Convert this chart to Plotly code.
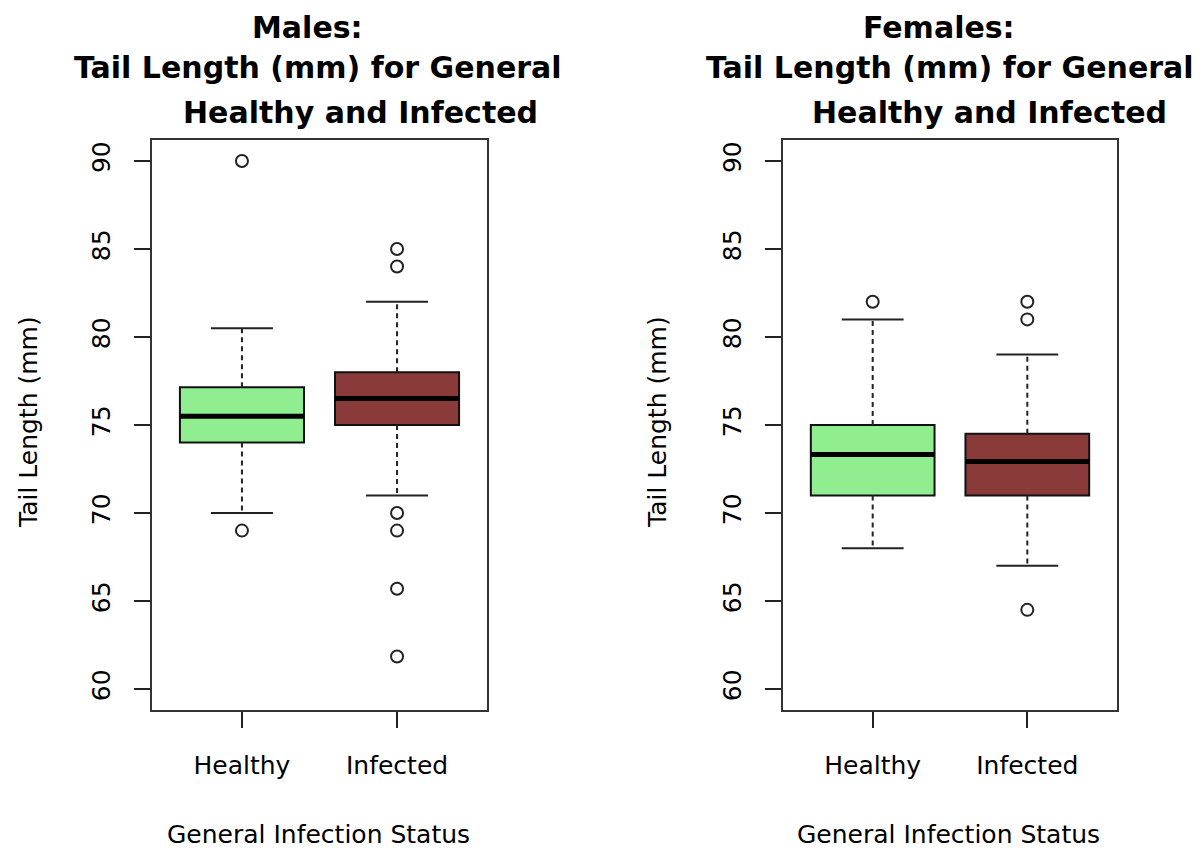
import plotly.graph_objects as go

# ---------------- data ----------------
groups = ["Healthy", "Infected"]
positions = [1, 2]
box_colors = ["#90EE90", "#8B3A3A"]

male_lower = [70.0, 71.0]
male_q1 = [74.0, 75.0]
male_median = [75.5, 76.5]
male_q3 = [77.15, 78.0]
male_upper = [80.5, 82.0]
male_out_healthy = [90.0, 69.0]
male_out_infected = [85.0, 84.0, 70.0, 69.0, 65.7, 61.85]

female_lower = [68.0, 67.0]
female_q1 = [71.0, 71.0]
female_median = [73.33, 72.92]
female_q3 = [75.0, 74.5]
female_upper = [81.0, 79.0]
female_out_healthy = [82.0]
female_out_infected = [82.0, 81.0, 64.5]

y_ticks = [60, 65, 70, 75, 80, 85, 90]

W, H = 1202, 854
FONT = "DejaVu Sans"


def px_x(p):
    return p / W


def px_y(p):
    return 1 - p / H


fig = go.Figure()


def add_panel(xa, ya, lower, q1, med, q3, upper, out_h, out_i):
    # boxes
    fig.add_trace(go.Bar(
        x=positions, y=[b - a for a, b in zip(q1, q3)], base=q1, width=0.8,
        marker=dict(color=box_colors, line=dict(color="#111", width=2)),
        xaxis=xa, yaxis=ya, showlegend=False, hoverinfo="skip"))
    # whiskers (dashed)
    wx, wy = [], []
    for c, lo, a, b, hi in zip(positions, lower, q1, q3, upper):
        wx += [c, c, None, c, c, None]
        wy += [b, hi, None, a, lo, None]
    fig.add_trace(go.Scatter(x=wx, y=wy, mode="lines",
                             line=dict(color="#222", width=2, dash="5px,4px"),
                             xaxis=xa, yaxis=ya, showlegend=False, hoverinfo="skip"))
    # caps
    cx, cy = [], []
    for c, lo, hi in zip(positions, lower, upper):
        cx += [c - 0.2, c + 0.2, None, c - 0.2, c + 0.2, None]
        cy += [hi, hi, None, lo, lo, None]
    fig.add_trace(go.Scatter(x=cx, y=cy, mode="lines",
                             line=dict(color="#222", width=2),
                             xaxis=xa, yaxis=ya, showlegend=False, hoverinfo="skip"))
    # medians
    mx, my = [], []
    for c, m in zip(positions, med):
        mx += [c - 0.4, c + 0.4, None]
        my += [m, m, None]
    fig.add_trace(go.Scatter(x=mx, y=my, mode="lines",
                             line=dict(color="black", width=5),
                             xaxis=xa, yaxis=ya, showlegend=False, hoverinfo="skip"))
    # outliers
    ox = [positions[0]] * len(out_h) + [positions[1]] * len(out_i)
    oy = list(out_h) + list(out_i)
    fig.add_trace(go.Scatter(x=ox, y=oy, mode="markers",
                             marker=dict(symbol="circle-open", size=12, color="#222",
                                         line=dict(width=2, color="#222")),
                             xaxis=xa, yaxis=ya, showlegend=False, hoverinfo="skip"))


add_panel("x", "y", male_lower, male_q1, male_median, male_q3, male_upper,
          male_out_healthy, male_out_infected)
add_panel("x2", "y2", female_lower, female_q1, female_median, female_q3, female_upper,
          female_out_healthy, female_out_infected)

ydom = [px_y(710), px_y(140)]
xcommon = dict(range=[0.42, 2.58], tickvals=positions, ticktext=groups,
               ticks="outside", ticklen=16, tickwidth=2, tickcolor="#222",
               showline=True, mirror=True, linecolor="#333", linewidth=2,
               showgrid=False, zeroline=False, fixedrange=True,
               tickfont=dict(family=FONT, size=25, color="black"),
               ticklabelstandoff=16)
ycommon = dict(range=[58.81, 91.19], tickvals=y_ticks,
               ticks="outside", ticklen=16, tickwidth=2, tickcolor="#222",
               showline=True, mirror=True, linecolor="#333", linewidth=2,
               showgrid=False, zeroline=False, fixedrange=True, tickangle=-90,
               tickfont=dict(family=FONT, size=25, color="black"),
               ticklabelstandoff=14)

fig.update_layout(
    width=W, height=H,
    margin=dict(l=0, r=0, t=0, b=0),
    paper_bgcolor="white", plot_bgcolor="white",
    barmode="overlay",
    xaxis=dict(domain=[px_x(152), px_x(487)], anchor="y", **xcommon),
    yaxis=dict(domain=ydom, anchor="x", **ycommon),
    xaxis2=dict(domain=[px_x(783), px_x(1117)], anchor="y2", **xcommon),
    yaxis2=dict(domain=ydom, anchor="x2", **ycommon),
)

ann = []
title_font = dict(family=FONT, size=30, color="black")
for (l1, c1), c2, c3 in [(("<b>Males:</b>", 307), 318, 360),
                          (("<b>Females:</b>", 939), 950, 989)]:
    ann.append(dict(text=l1, x=px_x(c1), y=px_y(27)))
    ann.append(dict(text="<b>Tail Length (mm) for General</b>", x=px_x(c2), y=px_y(68)))
    ann.append(dict(text="<b>Healthy and Infected</b>", x=px_x(c3), y=px_y(112)))
annotations = []
for a in ann:
    a.update(xref="paper", yref="paper", xanchor="center", yanchor="middle",
             showarrow=False, font=title_font)
    annotations.append(a)

lab_font = dict(family=FONT, size=25, color="black")
for xc, ylab_x in [(318, 28), (948, 657)]:
    annotations.append(dict(text="General Infection Status", x=px_x(xc), y=px_y(834),
                            xref="paper", yref="paper", xanchor="center", yanchor="middle",
                            showarrow=False, font=lab_font))
    annotations.append(dict(text="Tail Length (mm)", x=px_x(ylab_x), y=px_y(422),
                            xref="paper", yref="paper", xanchor="center", yanchor="middle",
                            textangle=-90, showarrow=False, font=lab_font))
fig.update_layout(annotations=annotations)

fig.write_html("out.html")
